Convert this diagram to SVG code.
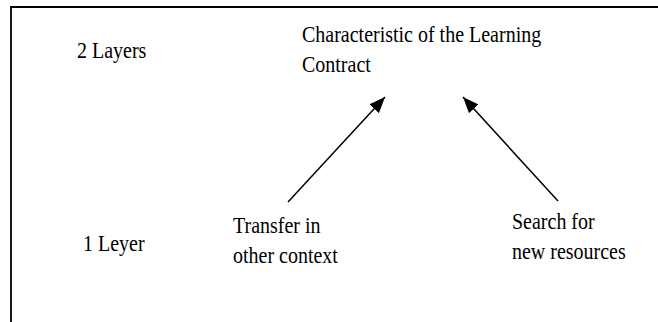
<svg xmlns="http://www.w3.org/2000/svg" width="658" height="322" viewBox="0 0 658 322">
  <style>
    text { font-family: "Liberation Serif", "Times New Roman", serif; font-size: 20px; fill: #000; }
    .frame { stroke: #000; stroke-width: 1.8; fill: none; }
    .conn { stroke: #000; stroke-width: 1.5; fill: none; }
  </style>
  <defs>
    <marker id="ah" markerUnits="userSpaceOnUse" markerWidth="17" markerHeight="13" refX="16" refY="6.5" orient="auto">
      <path d="M0,0 L16,6.5 L0,13 Z" fill="#000"/>
    </marker>
  </defs>
  <rect width="658" height="322" fill="#fff"/>
  <path class="frame" d="M11,322 L11,7 L658,7"/>
  <g id="label-2layers"><text transform="translate(77,58) scale(1,1.12)">2 Layers</text></g>
  <g id="label-1leyer"><text transform="translate(83,251) scale(1,1.12)">1 Leyer</text></g>
  <g id="node-characteristic">
    <text transform="translate(302,42) scale(1,1.12)">Characteristic of the Learning</text>
    <text transform="translate(302,72) scale(1,1.12)">Contract</text>
  </g>
  <g id="node-transfer">
    <text transform="translate(233,233) scale(1,1.12)">Transfer in</text>
    <text transform="translate(233,263) scale(1,1.12)">other context</text>
  </g>
  <g id="node-search">
    <text transform="translate(512,229) scale(1,1.12)">Search for</text>
    <text transform="translate(512,259) scale(1,1.12)">new resources</text>
  </g>
  <g id="connectors">
    <line class="conn" x1="288" y1="202" x2="385" y2="97" marker-end="url(#ah)"/>
    <line class="conn" x1="558" y1="201" x2="463" y2="97" marker-end="url(#ah)"/>
  </g>
</svg>
